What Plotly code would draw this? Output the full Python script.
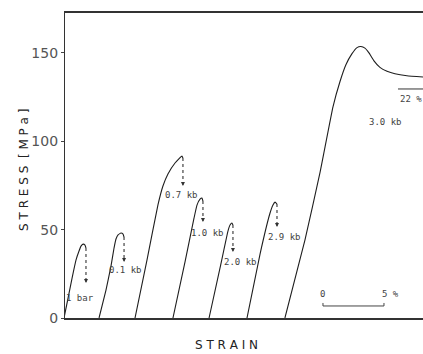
import plotly.graph_objects as go

# ---- data (strain in %, offset per test; stress in MPa) ----
c1_strain = [0.0, 0.33, 0.66, 0.98, 1.23, 1.39, 1.56, 1.72, 1.80]
c1_stress = [0.0, 11.3, 22.6, 32.8, 37.9, 40.7, 41.8, 41.3, 39.6]

c2_strain = [2.87, 3.44, 3.85, 4.10, 4.26, 4.43, 4.67, 4.84, 4.92]
c2_stress = [0.0, 15.8, 29.4, 39.6, 44.7, 47.0, 48.1, 47.5, 45.8]

c3_strain = [5.82, 6.80, 7.70, 8.11, 8.52, 9.10, 9.67, 9.75]
c3_stress = [0.0, 32.8, 64.0, 74.7, 81.5, 87.7, 91.7, 90.5]

c4_strain = [8.93, 9.92, 10.66, 10.90, 11.15, 11.31, 11.39]
c4_stress = [0.0, 31.7, 56.6, 63.9, 67.3, 67.9, 66.2]

c5_strain = [11.89, 12.79, 13.44, 13.61, 13.77, 13.85]
c5_stress = [0.0, 28.3, 49.2, 52.6, 53.8, 52.6]

c6_strain = [15.0, 16.07, 16.89, 17.13, 17.30, 17.46]
c6_stress = [0.0, 36.2, 59.4, 64.0, 65.6, 64.5]

c7_strain = [18.11, 19.75, 20.98, 22.05, 22.62, 23.11, 23.61, 24.02, 24.34,
             24.67, 25.0, 25.41, 25.90, 26.48, 27.13, 28.11, 29.43]
c7_stress = [0.0, 44.1, 82.1, 119.5, 133.7, 143.3, 149.6, 153.0, 153.6,
             152.7, 150.0, 145.5, 141.8, 139.6, 138.2, 137.1, 136.4]

curves = [(c1_strain, c1_stress), (c2_strain, c2_stress), (c3_strain, c3_stress),
          (c4_strain, c4_stress), (c5_strain, c5_stress), (c6_strain, c6_stress),
          (c7_strain, c7_stress)]

# stress drop after failure (dotted arrows): strain, from-stress, to-stress
drop_strain = [1.80, 4.92, 9.75, 11.39, 13.85, 17.46]
drop_from = [39.6, 45.8, 90.5, 66.2, 52.6, 64.5]
drop_to = [19.8, 31.7, 74.7, 54.3, 37.4, 51.5]

label_text = ["1 bar", "0.1 kb", "0.7 kb", "1.0 kb", "2.0 kb", "2.9 kb", "3.0 kb", "22 %"]
label_strain = [1.31, 5.08, 9.59, 11.80, 14.43, 18.11, 26.39, 28.44]
label_stress = [11.3, 27.2, 69.6, 48.1, 31.7, 45.8, 110.9, 123.9]

y_ticks = [0, 50, 100, 150]
scale_start = 21.23
scale_len = 5

INK = "#1e1e1e"
LBL = dict(family="DejaVu Sans Mono", size=9, color="#444")

fig = go.Figure()
for sx, sy in curves:
    fig.add_trace(go.Scatter(x=sx, y=sy, mode="lines",
                             line=dict(color=INK, width=1.1, shape="spline", smoothing=0.35),
                             hoverinfo="skip", showlegend=False))

for x, y0, y1 in zip(drop_strain, drop_from, drop_to):
    fig.add_trace(go.Scatter(x=[x, x], y=[y0, y1 + 2], mode="lines",
                             line=dict(color="#333", width=1.1, dash="dot"),
                             hoverinfo="skip", showlegend=False))
    fig.add_annotation(x=x, y=y1, ax=x, ay=y1 + 3, xref="x", yref="y",
                       axref="x", ayref="y", showarrow=True, arrowhead=2,
                       arrowsize=0.8, arrowwidth=1, arrowcolor="#333", text="")

for t, x, y in zip(label_text, label_strain, label_stress):
    fig.add_annotation(x=x, y=y, text=t, showarrow=False, font=LBL)

# overline above "22 %"
fig.add_trace(go.Scatter(x=[27.38, 29.43], y=[129.6, 129.6], mode="lines",
                         line=dict(color="#333", width=1), hoverinfo="skip", showlegend=False))

# scale bar 0 - 5 %
fig.add_trace(go.Scatter(x=[scale_start, scale_start, scale_start + scale_len, scale_start + scale_len],
                         y=[8.5, 6.8, 6.8, 8.5], mode="lines",
                         line=dict(color="#444", width=1), hoverinfo="skip", showlegend=False))
fig.add_annotation(x=scale_start, y=13.6, text="0", showarrow=False, font=LBL)
fig.add_annotation(x=scale_start + scale_len + 0.57, y=13.6, text="5 %", showarrow=False, font=LBL)

# axis titles
fig.add_annotation(xref="paper", yref="paper", x=0.45, y=-0.09, xanchor="center",
                   yanchor="middle", text="S T R A I N", showarrow=False,
                   font=dict(family="DejaVu Sans", size=12, color="#222"))
fig.add_annotation(xref="paper", yref="paper", x=-0.115, y=0.485, xanchor="center",
                   yanchor="middle", text="S T R E S S  [ M P a ]", textangle=-90,
                   showarrow=False, font=dict(family="DejaVu Sans", size=12, color="#222"))

fig.update_layout(
    width=423, height=354,
    margin=dict(l=65, r=0, t=13, b=36),
    paper_bgcolor="white", plot_bgcolor="white",
    xaxis=dict(range=[0.08, 29.43], showgrid=False, zeroline=False, showticklabels=False,
               ticks="", showline=True, linecolor="#333", linewidth=1.5, mirror=True),
    yaxis=dict(range=[0, 172.6], tickvals=y_ticks, showgrid=False, zeroline=False,
               ticks="outside", ticklen=3, tickcolor="#444", showline=True,
               linecolor="#333", linewidth=1.3,
               tickfont=dict(family="DejaVu Sans", size=14, color="#555")),
)

fig.write_html("out.html")
